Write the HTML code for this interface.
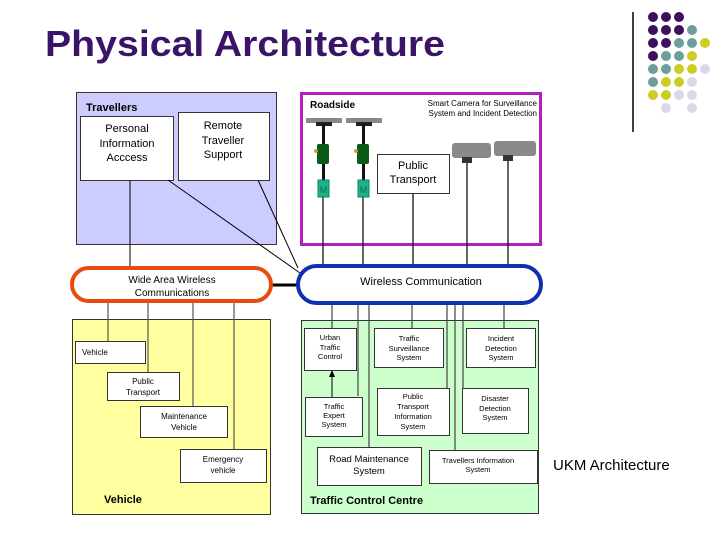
<!DOCTYPE html>
<html><head><meta charset="utf-8"><style>
html,body{margin:0;padding:0;background:#fff;}
svg{display:block;font-family:"Liberation Sans",Arial,sans-serif;}
</style></head><body>
<svg width="728" height="546" viewBox="0 0 728 546" xmlns="http://www.w3.org/2000/svg">
<text x="45" y="56" font-size="36" font-weight="bold" fill="#3a1466" textLength="400" lengthAdjust="spacingAndGlyphs">Physical Architecture</text>
<line x1="633" y1="12" x2="633" y2="132" stroke="#000" stroke-width="1.5"/>
<g>
<circle cx="653" cy="17" r="5" fill="#3d0f5e"/><circle cx="666" cy="17" r="5" fill="#3d0f5e"/><circle cx="679" cy="17" r="5" fill="#3d0f5e"/>
<circle cx="653" cy="30" r="5" fill="#3d0f5e"/><circle cx="666" cy="30" r="5" fill="#3d0f5e"/><circle cx="679" cy="30" r="5" fill="#3d0f5e"/><circle cx="692" cy="30" r="5" fill="#6e9e9c"/>
<circle cx="653" cy="43" r="5" fill="#3d0f5e"/><circle cx="666" cy="43" r="5" fill="#3d0f5e"/><circle cx="679" cy="43" r="5" fill="#6e9e9c"/><circle cx="692" cy="43" r="5" fill="#6e9e9c"/><circle cx="705" cy="43" r="5" fill="#cccc22"/>
<circle cx="653" cy="56" r="5" fill="#3d0f5e"/><circle cx="666" cy="56" r="5" fill="#6e9e9c"/><circle cx="679" cy="56" r="5" fill="#6e9e9c"/><circle cx="692" cy="56" r="5" fill="#cccc22"/>
<circle cx="653" cy="69" r="5" fill="#6e9e9c"/><circle cx="666" cy="69" r="5" fill="#6e9e9c"/><circle cx="679" cy="69" r="5" fill="#cccc22"/><circle cx="692" cy="69" r="5" fill="#cccc22"/><circle cx="705" cy="69" r="5" fill="#d8d8ea"/>
<circle cx="653" cy="82" r="5" fill="#6e9e9c"/><circle cx="666" cy="82" r="5" fill="#cccc22"/><circle cx="679" cy="82" r="5" fill="#cccc22"/><circle cx="692" cy="82" r="5" fill="#d8d8ea"/>
<circle cx="653" cy="95" r="5" fill="#cccc22"/><circle cx="666" cy="95" r="5" fill="#cccc22"/><circle cx="679" cy="95" r="5" fill="#d8d8ea"/><circle cx="692" cy="95" r="5" fill="#d8d8ea"/>
<circle cx="666" cy="108" r="5" fill="#d8d8ea"/><circle cx="692" cy="108" r="5" fill="#d8d8ea"/>
</g>

<rect x="76.5" y="92.5" width="200" height="152" fill="#ccccff" stroke="#333"/>
<text x="86" y="111" font-size="11" font-weight="bold">Travellers</text>
<rect x="80.5" y="116.5" width="93" height="64" fill="#fff" stroke="#333"/>
<g font-size="11" text-anchor="middle"><text x="127" y="132">Personal</text><text x="127" y="147">Information</text><text x="127" y="161">Acccess</text></g>
<rect x="178.5" y="112.5" width="91" height="68" fill="#fff" stroke="#333"/>
<g font-size="11" text-anchor="middle"><text x="223" y="129">Remote</text><text x="223" y="144">Traveller</text><text x="223" y="158">Support</text></g>

<rect x="301.5" y="93.5" width="239" height="151" fill="#fff" stroke="#b020c0" stroke-width="3"/>
<text x="310" y="108" font-size="10" font-weight="bold">Roadside</text>
<g font-size="8" text-anchor="end"><text x="537" y="106">Smart Camera for Surveillance</text><text x="537" y="116">System and Incident Detection</text></g>
<g stroke="#000" stroke-width="1.2">
<line x1="323" y1="197" x2="323" y2="267"/><line x1="363" y1="197" x2="363" y2="267"/>
<line x1="413" y1="193" x2="413" y2="267"/><line x1="467" y1="160" x2="467" y2="267"/><line x1="508" y1="160" x2="508" y2="267"/>
</g>
<g>
<rect x="306" y="118" width="36" height="5" fill="#888"/><rect x="346" y="118" width="36" height="5" fill="#888"/>
<rect x="316" y="122" width="16" height="4" fill="#222"/><rect x="356" y="122" width="16" height="4" fill="#222"/>
<rect x="322" y="124" width="3" height="60" fill="#111"/><rect x="362" y="124" width="3" height="60" fill="#111"/>
<rect x="317" y="144" width="12" height="20" rx="2" fill="#0a5a1a"/><rect x="357" y="144" width="12" height="20" rx="2" fill="#0a5a1a"/>
<circle cx="316" cy="151" r="2" fill="#c9a030"/><circle cx="356" cy="151" r="2" fill="#c9a030"/>
<rect x="318" y="180" width="11" height="17" fill="#20b090" stroke="#085"/><rect x="358" y="180" width="11" height="17" fill="#20b090" stroke="#085"/>
<text x="323.5" y="193" font-size="9" fill="#074" text-anchor="middle">M</text><text x="363.5" y="193" font-size="9" fill="#074" text-anchor="middle">M</text>
<rect x="452" y="143" width="39" height="15" rx="3" fill="#8a8a8a"/><rect x="494" y="141" width="42" height="15" rx="3" fill="#8a8a8a"/>
<rect x="462" y="157" width="10" height="6" fill="#333"/><rect x="503" y="155" width="10" height="6" fill="#333"/>
</g>
<rect x="377.5" y="154.5" width="72" height="39" fill="#fff" stroke="#333"/>
<g font-size="11" text-anchor="middle"><text x="413" y="169">Public</text><text x="413" y="183">Transport</text></g>

<g stroke="#000" stroke-width="1">
<line x1="130" y1="180" x2="130" y2="268"/>
<line x1="168" y1="180" x2="300" y2="273"/>
<line x1="258" y1="180" x2="298" y2="268"/>
</g>
<line x1="272" y1="285" x2="298" y2="285" stroke="#000" stroke-width="3"/>

<rect x="72.5" y="319.5" width="198" height="195" fill="#ffffa0" stroke="#333"/>
<g stroke="#555" stroke-width="1.2">
<line x1="108" y1="300" x2="108" y2="341"/><line x1="148" y1="300" x2="148" y2="372"/>
<line x1="193" y1="300" x2="193" y2="406"/><line x1="234" y1="300" x2="234" y2="449"/>
</g>
<rect x="75.5" y="341.5" width="70" height="22" fill="#fff" stroke="#333"/>
<text x="82" y="355" font-size="8">Vehicle</text>
<rect x="107.5" y="372.5" width="72" height="28" fill="#fff" stroke="#333"/>
<g font-size="8" text-anchor="middle"><text x="143" y="384">Public</text><text x="143" y="395">Transport</text></g>
<rect x="140.5" y="406.5" width="87" height="31" fill="#fff" stroke="#333"/>
<g font-size="8" text-anchor="middle"><text x="184" y="419">Maintenance</text><text x="184" y="430">Vehicle</text></g>
<rect x="180.5" y="449.5" width="86" height="33" fill="#fff" stroke="#333"/>
<g font-size="8" text-anchor="middle"><text x="223" y="462">Emergency</text><text x="223" y="473">vehicle</text></g>
<text x="104" y="503" font-size="11" font-weight="bold">Vehicle</text>

<rect x="301.5" y="320.5" width="237" height="193" fill="#ccffcc" stroke="#333"/>
<g stroke="#444" stroke-width="1.2">
<line x1="332" y1="300" x2="332" y2="328"/><line x1="358" y1="300" x2="358" y2="396"/>
<line x1="369" y1="300" x2="369" y2="447"/><line x1="412" y1="300" x2="412" y2="328"/>
<line x1="447" y1="300" x2="447" y2="388"/><line x1="455" y1="300" x2="455" y2="450"/>
<line x1="463" y1="300" x2="463" y2="388"/><line x1="504" y1="300" x2="504" y2="328"/>
</g>
<g fill="#fff" stroke="#333">
<rect x="304.5" y="328.5" width="52" height="42"/>
<rect x="374.5" y="328.5" width="69" height="39"/>
<rect x="466.5" y="328.5" width="69" height="39"/>
<rect x="305.5" y="397.5" width="57" height="39"/>
<rect x="377.5" y="388.5" width="72" height="47"/>
<rect x="462.5" y="388.5" width="66" height="45"/>
<rect x="317.5" y="447.5" width="104" height="38"/>
<rect x="429.5" y="450.5" width="108" height="33"/>
</g>
<line x1="332" y1="397" x2="332" y2="376" stroke="#000"/>
<polygon points="332,370 329,377 335,377" fill="#000"/>
<g font-size="7.5" text-anchor="middle">
<text x="330" y="340">Urban</text><text x="330" y="350">Traffic</text><text x="330" y="359">Control</text>
<text x="409" y="341">Traffic</text><text x="409" y="351">Surveillance</text><text x="409" y="360">System</text>
<text x="501" y="341">Incident</text><text x="501" y="351">Detection</text><text x="501" y="360">System</text>
<text x="334" y="409">Traffic</text><text x="334" y="418">Expert</text><text x="334" y="427">System</text>
<text x="413" y="399">Public</text><text x="413" y="409">Transport</text><text x="413" y="419">Information</text><text x="413" y="429">System</text>
<text x="495" y="401">Disaster</text><text x="495" y="411">Detection</text><text x="495" y="420">System</text>
<text x="478" y="463">Travellers Information</text><text x="478" y="472">System</text>
</g>
<g font-size="9.5" text-anchor="middle"><text x="369" y="462">Road Maintenance</text><text x="369" y="474">System</text></g>
<text x="310" y="504" font-size="11" font-weight="bold">Traffic Control Centre</text>

<rect x="72" y="268" width="199" height="33" rx="16.5" fill="#fff" stroke="#e84a10" stroke-width="4"/>
<g font-size="10" text-anchor="middle"><text x="172" y="283">Wide Area Wireless</text><text x="172" y="296">Communications</text></g>
<rect x="298" y="266" width="243" height="37" rx="18.5" fill="#fff" stroke="#1030b0" stroke-width="4"/>
<text x="421" y="285" font-size="11" text-anchor="middle">Wireless Communication</text>

<text x="553" y="470" font-size="15">UKM Architecture</text>
</svg>
</body></html>
